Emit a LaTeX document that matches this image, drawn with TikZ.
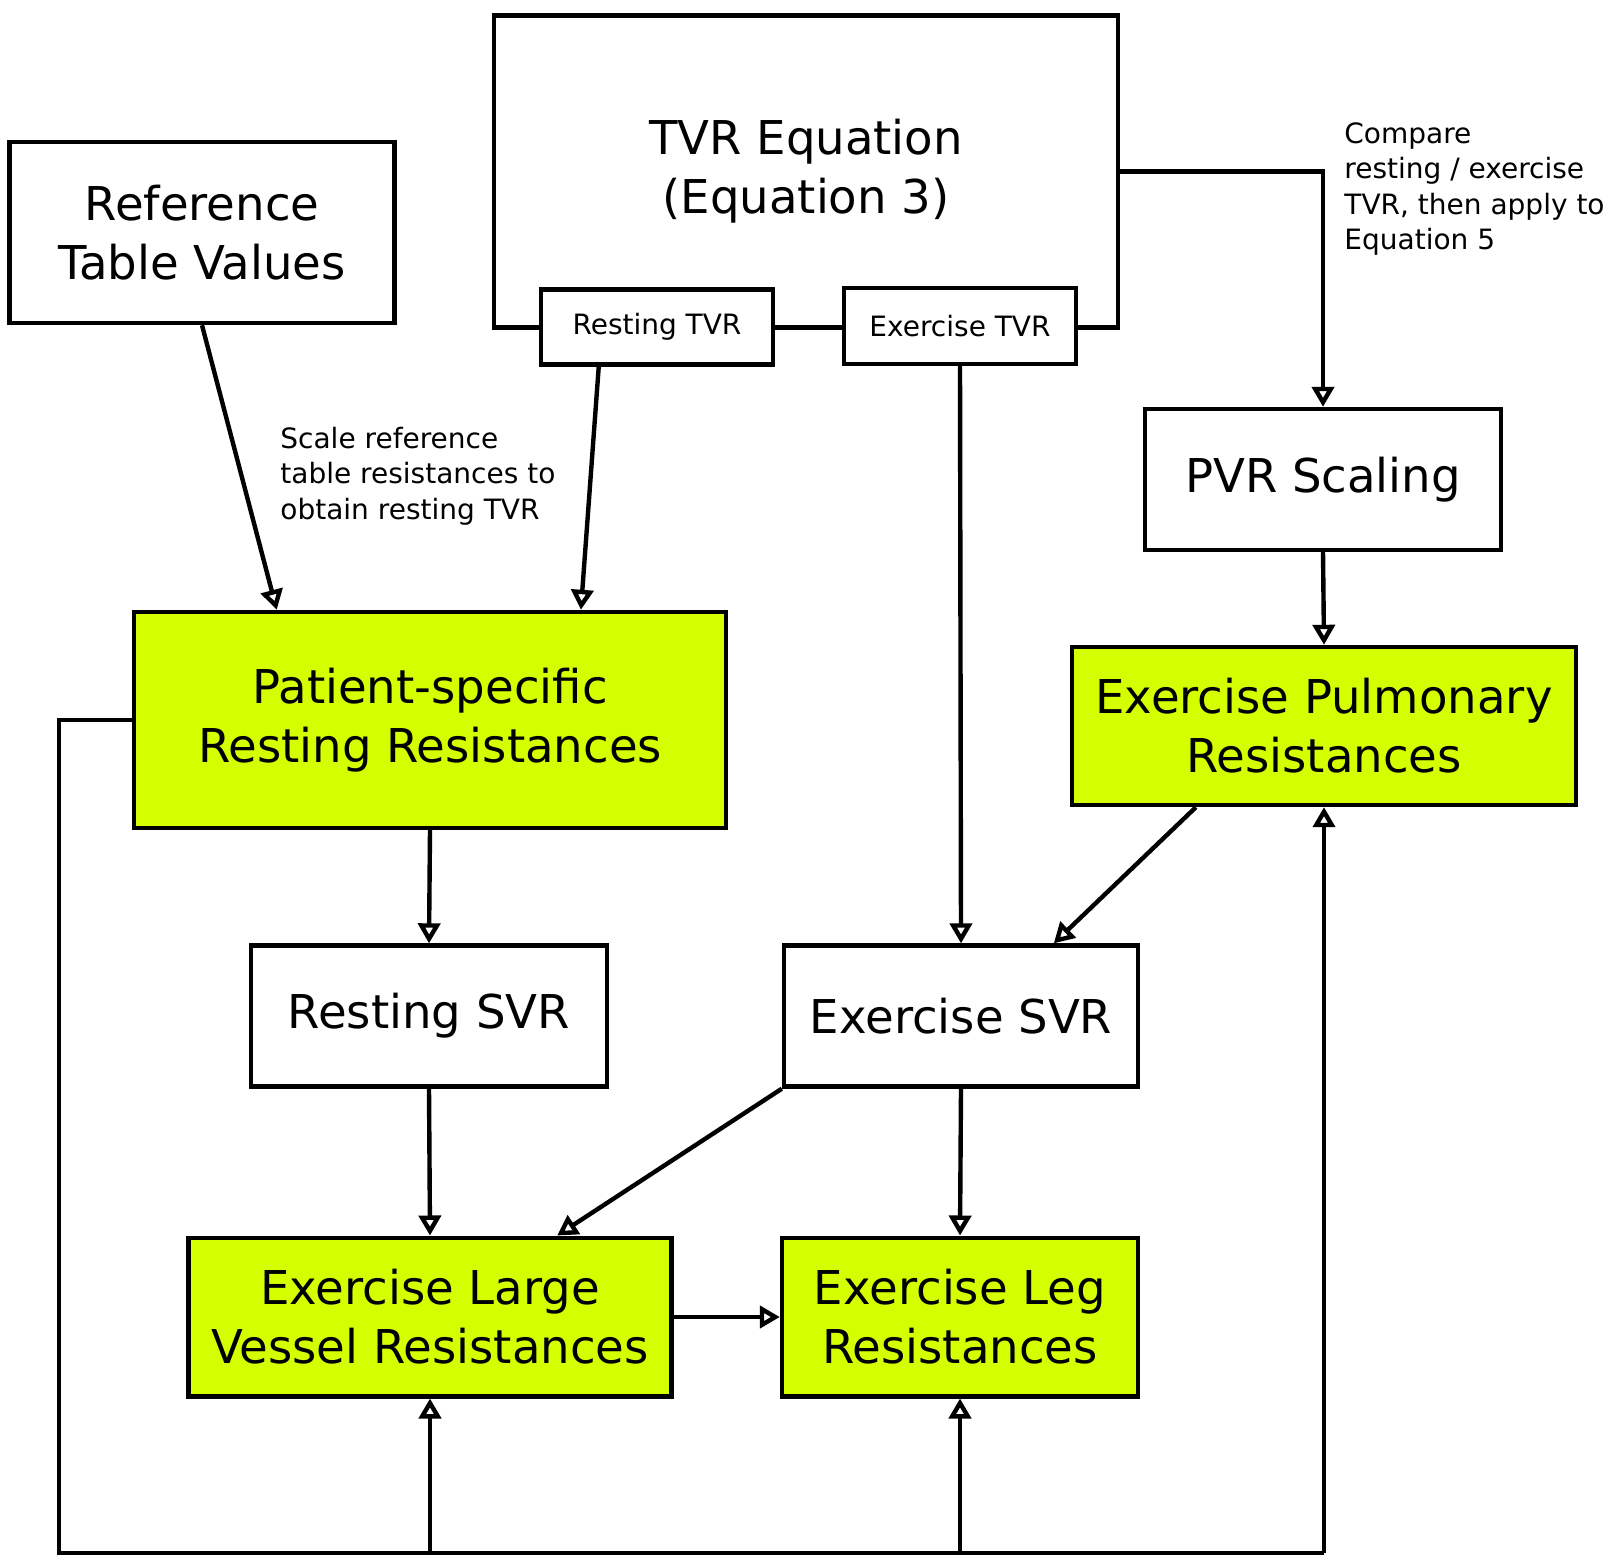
\documentclass[tikz,border=0pt]{standalone}
\usepackage{fontspec}
\setmainfont{DejaVu Sans}
\usepackage{xcolor}
\usepackage{tikz}
\usetikzlibrary{arrows.meta,positioning,calc}
\definecolor{lime2}{HTML}{D4FF00}
\newcommand{\bigtxt}{\fontsize{23.3pt}{29.5pt}\selectfont}
\newcommand{\smalltxt}{\fontsize{14pt}{17.8pt}\selectfont}

\begin{document}
\begin{tikzpicture}[
        x=0.5pt, y=-0.5pt,
        wbox/.style={draw, line width=2.2pt, fill=white, inner sep=0pt, align=center, font=\bigtxt},
        gbox/.style={wbox, fill=lime2},
        sbox/.style={wbox, font=\smalltxt},
        note/.style={font=\smalltxt, align=left, anchor=west, inner sep=0pt},
        arr/.style={-{Triangle[open,length=10pt,width=11pt]}, line width=2.2pt},
        ln/.style={line width=2.2pt}
    ]
      \useasboundingbox (0,0) rectangle (1615,1556);
      \node[wbox, minimum width=192.5pt, minimum height=90.5pt] (ref) at (202,232.5) {Reference\\Table Values};
      \node[wbox, minimum width=312.25pt, minimum height=156pt] (tvr) at (806,171.5) {TVR Equation\\(Equation 3)};
      \node[sbox, minimum width=115.75pt, minimum height=37.5pt] (rtvr) at (657,327) {Resting TVR};
      \node[sbox, minimum width=116.25pt, minimum height=37.8pt] (etvr) at (960,326) {Exercise TVR};
      \node[wbox, minimum width=177.8pt, minimum height=70.5pt] (pvr) at (1323,479.5) {PVR Scaling};
      \node[gbox, minimum width=252pt, minimum height=79pt] (pulm) at (1324,726) {Exercise Pulmonary\\Resistances};
      \node[gbox, minimum width=296pt, minimum height=108pt] (pat) at (430,720) {Patient-specific\\Resting Resistances};
      \node[wbox, minimum width=178pt, minimum height=70.5pt] (rsvr) at (429,1016) {Resting SVR};
      \node[wbox, minimum width=177pt, minimum height=70.5pt] (esvr) at (961,1016) {Exercise SVR};
      \node[gbox, minimum width=241.5pt, minimum height=79.3pt] (lv) at (430,1317) {Exercise Large\\Vessel Resistances};
      \node[gbox, minimum width=178pt, minimum height=79.3pt] (leg) at (960,1317) {Exercise Leg\\Resistances};
      \node[note] (scalenote) at (280,476) {Scale reference\\table resistances to\\obtain resting TVR};
      \node[note] (comparenote) at (1344,189) {Compare\\resting / exercise\\TVR, then apply to\\Equation 5};
      \coordinate (fbl) at (59,1553);

      \draw[arr] (ref.south) -- ($(pat.north west)!0.243!(pat.north east)$);
      \draw[arr] ($(rtvr.south west)!0.253!(rtvr.south east)$) -- ($(pat.north west)!0.753!(pat.north east)$);
      \draw[arr] (etvr.south) -- (esvr.north);
      \draw[arr] (tvr.east) -| (pvr.north);
      \draw[arr] (pvr.south) -- (pulm.north);
      \draw[arr] ($(pulm.south west)!0.248!(pulm.south east)$) -- ($(esvr.north west)!0.759!(esvr.north east)$);
      \draw[arr] (pat.south) -- (rsvr.north);
      \draw[arr] (rsvr.south) -- (lv.north);
      \draw[arr] (esvr.south west) -- ($(lv.north west)!0.761!(lv.north east)$);
      \draw[arr] (esvr.south) -- (leg.north);
      \draw[arr] (lv.east) -- (leg.west);
      \draw[ln] (pat.west) -| (fbl) -- (fbl -| pulm.south);
      \draw[arr] (fbl -| pulm.south) -- (pulm.south);
      \draw[arr] (fbl -| lv.south) -- (lv.south);
      \draw[arr] (fbl -| leg.south) -- (leg.south);
    \end{tikzpicture}
\end{document}
